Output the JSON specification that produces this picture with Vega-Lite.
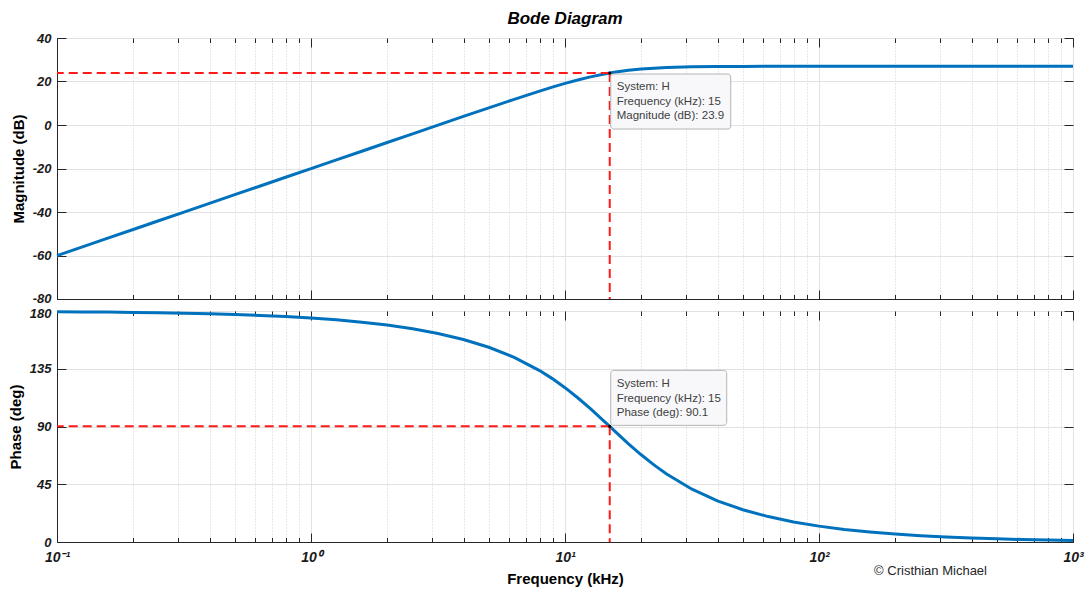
{
  "$schema": "https://vega.github.io/schema/vega-lite/v6.json",
  "background": "white",
  "padding": {"left": 7, "top": 9, "right": 4, "bottom": 4},
  "title": {"text": "Bode Diagram", "font": "Liberation Sans", "fontSize": 17, "fontWeight": "bold", "fontStyle": "italic", "color": "#000000", "anchor": "middle", "frame": "group", "offset": 4},
  "spacing": 12,
  "bounds": "flush",
  "datasets": {
    "bode": [
      {"f": 0.1, "mag": -60.04, "phase": 179.45},
      {"f": 0.1259, "mag": -56.04, "phase": 179.31},
      {"f": 0.1585, "mag": -52.04, "phase": 179.14},
      {"f": 0.1995, "mag": -48.04, "phase": 178.91},
      {"f": 0.2512, "mag": -44.04, "phase": 178.63},
      {"f": 0.3162, "mag": -40.04, "phase": 178.27},
      {"f": 0.3981, "mag": -36.04, "phase": 177.83},
      {"f": 0.5012, "mag": -32.04, "phase": 177.26},
      {"f": 0.631, "mag": -28.04, "phase": 176.55},
      {"f": 0.7943, "mag": -24.04, "phase": 175.66},
      {"f": 1, "mag": -20.04, "phase": 174.54},
      {"f": 1.259, "mag": -16.05, "phase": 173.11},
      {"f": 1.585, "mag": -12.05, "phase": 171.32},
      {"f": 1.995, "mag": -8.05, "phase": 169.05},
      {"f": 2.512, "mag": -4.05, "phase": 166.17},
      {"f": 3.162, "mag": -0.06, "phase": 162.51},
      {"f": 3.981, "mag": 3.93, "phase": 157.81},
      {"f": 5.012, "mag": 7.89, "phase": 151.75},
      {"f": 6.31, "mag": 11.8, "phase": 143.86},
      {"f": 7.943, "mag": 15.59, "phase": 133.56},
      {"f": 8.913, "mag": 17.39, "phase": 127.31},
      {"f": 10, "mag": 19.11, "phase": 120.26},
      {"f": 11.22, "mag": 20.7, "phase": 112.39},
      {"f": 12.59, "mag": 22.13, "phase": 103.85},
      {"f": 14.13, "mag": 23.35, "phase": 94.81},
      {"f": 15, "mag": 23.9, "phase": 90.1},
      {"f": 15.85, "mag": 24.35, "phase": 85.59},
      {"f": 17.78, "mag": 25.14, "phase": 76.52},
      {"f": 19.95, "mag": 25.72, "phase": 67.96},
      {"f": 22.39, "mag": 26.13, "phase": 60.06},
      {"f": 25.12, "mag": 26.42, "phase": 52.97},
      {"f": 31.62, "mag": 26.75, "phase": 41.16},
      {"f": 39.81, "mag": 26.89, "phase": 32.1},
      {"f": 50.12, "mag": 26.95, "phase": 25.16},
      {"f": 63.1, "mag": 26.98, "phase": 19.8},
      {"f": 79.43, "mag": 26.99, "phase": 15.63},
      {"f": 100, "mag": 27, "phase": 12.37},
      {"f": 125.9, "mag": 27, "phase": 9.8},
      {"f": 158.5, "mag": 27, "phase": 7.77},
      {"f": 199.5, "mag": 27, "phase": 6.16},
      {"f": 251.2, "mag": 27, "phase": 4.89},
      {"f": 316.2, "mag": 27, "phase": 3.89},
      {"f": 398.1, "mag": 27, "phase": 3.09},
      {"f": 501.2, "mag": 27, "phase": 2.45},
      {"f": 631, "mag": 27, "phase": 1.95},
      {"f": 794.3, "mag": 27, "phase": 1.55},
      {"f": 1000, "mag": 27, "phase": 1.23}
    ],
    "tip": [
      {"f": 15, "mag": 23.9, "phase": 90.1, "magText": "System: H\nFrequency (kHz): 15\nMagnitude (dB): 23.9", "phaseText": "System: H\nFrequency (kHz): 15\nPhase (deg): 90.1", "credit": "© Cristhian Michael"}
    ]
  },
  "vconcat": [
    {
      "width": 1016,
      "height": 261,
      "layer": [
        {
          "data": {"name": "bode"},
          "mark": {"type": "line", "color": "#0072BD", "strokeWidth": 3},
          "encoding": {
            "x": {"field": "f", "type": "quantitative", "scale": {"type": "log", "domain": [0.1, 1000], "nice": false},
              "axis": {"orient": "bottom", "title": null, "labels": false, "domain": true, "domainColor": "#262626",
                "values": [0.1,0.2,0.3,0.4,0.5,0.6,0.7,0.8,0.9,1,2,3,4,5,6,7,8,9,10,20,30,40,50,60,70,80,90,100,200,300,400,500,600,700,800,900,1000],
                "tickSize": {"condition": {"test": "abs(log(datum.value)/LN10 - round(log(datum.value)/LN10)) < 0.001", "value": -9}, "value": -4.5},
                "grid": true,
                "gridDash": {"condition": {"test": "abs(log(datum.value)/LN10 - round(log(datum.value)/LN10)) < 0.001", "value": []}, "value": [1, 2]},
                "gridColor": {"condition": {"test": "abs(log(datum.value)/LN10 - round(log(datum.value)/LN10)) < 0.001", "value": "#e2e2e2"}, "value": "#d0d0d0"}}},
            "y": {"field": "mag", "type": "quantitative", "scale": {"domain": [-80, 40], "nice": false},
              "axis": {"orient": "left", "title": "Magnitude (dB)", "values": [-80, -60, -40, -20, 0, 20, 40], "labelExpr": "'' + datum.value",
                "labelOffset": {"condition": {"test": "datum.value == -80", "value": -1}, "value": 0},
                "tickSize": -9, "labelPadding": 15, "titlePadding": 6, "domain": true, "domainColor": "#262626", "grid": true, "gridColor": "#e2e2e2"}}
          }
        },
        {
          "data": {"name": "tip"},
          "mark": {"type": "rule", "color": "#FF1A1A", "strokeWidth": 2, "strokeDash": [9, 5]},
          "encoding": {
            "x": {"field": "f", "type": "quantitative", "axis": null},
            "x2": {"datum": 0.1},
            "y": {"field": "mag", "type": "quantitative", "axis": null}
          }
        },
        {
          "data": {"name": "tip"},
          "mark": {"type": "rule", "color": "#FF1A1A", "strokeWidth": 2, "strokeDash": [9, 5]},
          "encoding": {
            "x": {"field": "f", "type": "quantitative",
              "axis": {"orient": "top", "title": null, "labels": false, "grid": false, "domain": false,
                "values": [0.1,0.2,0.3,0.4,0.5,0.6,0.7,0.8,0.9,1,2,3,4,5,6,7,8,9,10,20,30,40,50,60,70,80,90,100,200,300,400,500,600,700,800,900,1000],
                "tickSize": {"condition": {"test": "abs(log(datum.value)/LN10 - round(log(datum.value)/LN10)) < 0.001", "value": -9}, "value": -4.5}}},
            "y": {"field": "mag", "type": "quantitative",
              "axis": {"orient": "right", "title": null, "labels": false, "grid": false, "domain": false, "tickSize": -9, "values": [-80, -60, -40, -20, 0, 20, 40]}},
            "y2": {"datum": -80}
          }
        },
        {
          "data": {"name": "tip"},
          "mark": {"type": "rect", "fill": "#f8f8fb", "fillOpacity": 0.95, "stroke": "#b4b4b4", "strokeWidth": 1, "cornerRadius": 3, "xOffset": 1, "x2Offset": 121, "yOffset": 1, "y2Offset": 56},
          "encoding": {
            "x": {"field": "f", "type": "quantitative", "axis": null},
            "x2": {"field": "f"},
            "y": {"field": "mag", "type": "quantitative", "axis": null},
            "y2": {"field": "mag"}
          }
        },
        {
          "data": {"name": "tip"},
          "mark": {"type": "point", "filled": true, "color": "#000000", "size": 10, "opacity": 1},
          "encoding": {
            "x": {"field": "f", "type": "quantitative", "axis": null},
            "y": {"field": "mag", "type": "quantitative", "axis": null}
          }
        },
        {
          "data": {"name": "tip"},
          "mark": {"type": "text", "align": "left", "baseline": "top", "dx": 7, "dy": 8, "font": "Liberation Sans", "fontSize": 11.5, "color": "#404040", "lineBreak": "\n", "lineHeight": 14.5},
          "encoding": {
            "x": {"field": "f", "type": "quantitative", "axis": null},
            "y": {"field": "mag", "type": "quantitative", "axis": null},
            "text": {"field": "magText"}
          }
        }
      ],
      "resolve": {"axis": {"x": "independent", "y": "independent"}}
    },
    {
      "width": 1016,
      "height": 231,
      "layer": [
        {
          "data": {"name": "bode"},
          "mark": {"type": "line", "color": "#0072BD", "strokeWidth": 3},
          "encoding": {
            "x": {"field": "f", "type": "quantitative", "scale": {"type": "log", "domain": [0.1, 1000], "nice": false},
              "axis": {"orient": "bottom", "title": "Frequency  (kHz)", "labelFlush": false, "labelOverlap": false, "domain": true, "domainColor": "#262626",
                "values": [0.1,0.2,0.3,0.4,0.5,0.6,0.7,0.8,0.9,1,2,3,4,5,6,7,8,9,10,20,30,40,50,60,70,80,90,100,200,300,400,500,600,700,800,900,1000],
                "labelExpr": "datum.value == 0.1 ? '10⁻¹' : datum.value == 1 ? '10⁰' : datum.value == 10 ? '10¹' : datum.value == 100 ? '10²' : datum.value == 1000 ? '10³' : ''",
                "labelFontSize": 14,
                "tickSize": {"condition": {"test": "abs(log(datum.value)/LN10 - round(log(datum.value)/LN10)) < 0.001", "value": -9}, "value": -4.5},
                "labelPadding": 17, "titlePadding": 3,
                "grid": true,
                "gridDash": {"condition": {"test": "abs(log(datum.value)/LN10 - round(log(datum.value)/LN10)) < 0.001", "value": []}, "value": [1, 2]},
                "gridColor": {"condition": {"test": "abs(log(datum.value)/LN10 - round(log(datum.value)/LN10)) < 0.001", "value": "#e2e2e2"}, "value": "#d0d0d0"}}},
            "y": {"field": "phase", "type": "quantitative", "scale": {"domain": [0, 180], "nice": false},
              "axis": {"orient": "left", "title": "Phase (deg)", "values": [0, 45, 90, 135, 180],
                "labelOffset": {"condition": {"test": "datum.value == 180", "value": 2}, "value": 0},
                "tickSize": -9, "labelPadding": 15, "titlePadding": 6, "domain": true, "domainColor": "#262626", "grid": true, "gridColor": "#e2e2e2"}}
          }
        },
        {
          "data": {"name": "tip"},
          "mark": {"type": "rule", "color": "#FF1A1A", "strokeWidth": 2, "strokeDash": [9, 5]},
          "encoding": {
            "x": {"field": "f", "type": "quantitative", "axis": null},
            "x2": {"datum": 0.1},
            "y": {"field": "phase", "type": "quantitative", "axis": null}
          }
        },
        {
          "data": {"name": "tip"},
          "mark": {"type": "rule", "color": "#FF1A1A", "strokeWidth": 2, "strokeDash": [9, 5]},
          "encoding": {
            "x": {"field": "f", "type": "quantitative",
              "axis": {"orient": "top", "title": null, "labels": false, "grid": false, "domain": false,
                "values": [0.1,0.2,0.3,0.4,0.5,0.6,0.7,0.8,0.9,1,2,3,4,5,6,7,8,9,10,20,30,40,50,60,70,80,90,100,200,300,400,500,600,700,800,900,1000],
                "tickSize": {"condition": {"test": "abs(log(datum.value)/LN10 - round(log(datum.value)/LN10)) < 0.001", "value": -9}, "value": -4.5}}},
            "y": {"field": "phase", "type": "quantitative",
              "axis": {"orient": "right", "title": null, "labels": false, "grid": false, "domain": false, "tickSize": -9, "values": [0, 45, 90, 135, 180]}},
            "y2": {"datum": 0}
          }
        },
        {
          "data": {"name": "tip"},
          "mark": {"type": "rect", "fill": "#f8f8fb", "fillOpacity": 0.95, "stroke": "#b4b4b4", "strokeWidth": 1, "cornerRadius": 3, "xOffset": 1, "x2Offset": 117, "yOffset": -56, "y2Offset": -1},
          "encoding": {
            "x": {"field": "f", "type": "quantitative", "axis": null},
            "x2": {"field": "f"},
            "y": {"field": "phase", "type": "quantitative", "axis": null},
            "y2": {"field": "phase"}
          }
        },
        {
          "data": {"name": "tip"},
          "mark": {"type": "point", "filled": true, "color": "#000000", "size": 10, "opacity": 1},
          "encoding": {
            "x": {"field": "f", "type": "quantitative", "axis": null},
            "y": {"field": "phase", "type": "quantitative", "axis": null}
          }
        },
        {
          "data": {"name": "tip"},
          "mark": {"type": "text", "align": "left", "baseline": "top", "dx": 7, "dy": -48, "font": "Liberation Sans", "fontSize": 11.5, "color": "#404040", "lineBreak": "\n", "lineHeight": 14.5},
          "encoding": {
            "x": {"field": "f", "type": "quantitative", "axis": null},
            "y": {"field": "phase", "type": "quantitative", "axis": null},
            "text": {"field": "phaseText"}
          }
        },
        {
          "data": {"name": "tip"},
          "mark": {"type": "text", "align": "right", "baseline": "middle", "dx": -86, "dy": 29, "font": "Liberation Sans", "fontSize": 13, "color": "#262626"},
          "encoding": {
            "x": {"datum": 1000, "type": "quantitative", "axis": null},
            "y": {"datum": 0, "type": "quantitative", "axis": null},
            "text": {"field": "credit"}
          }
        }
      ],
      "resolve": {"axis": {"x": "independent", "y": "independent"}}
    }
  ],
  "config": {
    "font": "Liberation Sans",
    "view": {"stroke": "#6e6e6e", "strokeWidth": 1},
    "axis": {
      "labelFont": "Liberation Sans", "labelFontSize": 13, "labelFontWeight": "bold", "labelFontStyle": "italic", "labelColor": "#1a1a1a",
      "titleFont": "Liberation Sans", "titleFontSize": 15, "titleFontWeight": "bold", "titleColor": "#000000",
      "tickColor": "#262626", "tickWidth": 1, "gridWidth": 1
    }
  }
}
